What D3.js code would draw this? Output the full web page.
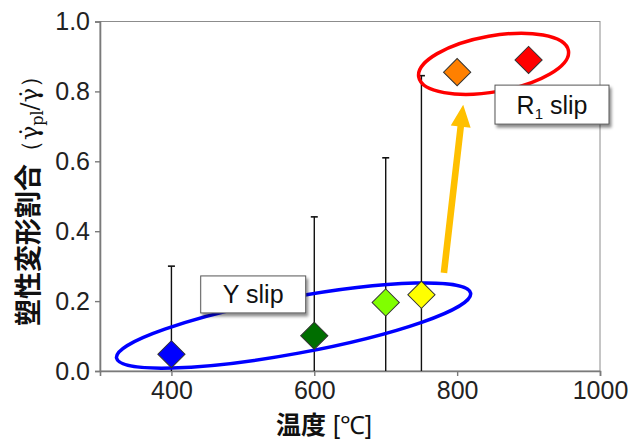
<!DOCTYPE html>
<html>
<head>
<meta charset="utf-8">
<script src="https://cdn.jsdelivr.net/npm/d3@7"></script>
<style>
  body { margin: 0; background: #fff; }
  svg { display: block; }
</style>
</head>
<body>
<svg id="chart" width="644" height="443"></svg>
<script>
// data
const temps = [400, 600, 700, 750, 800, 900];
const ratio = [0.048, 0.101, 0.196, 0.218, 0.855, 0.890];
const errUp = [0.252, 0.340, 0.414, 0.627, 0, 0];
const colors = ["#0000ff", "#006e00", "#80ff00", "#ffff00", "#ff8000", "#ff0000"];
const xTicks = [400, 600, 800, 1000];
const yTicks = [0, 0.2, 0.4, 0.6, 0.8, 1.0];

const svg = d3.select("#chart");
const x = d3.scaleLinear().domain([300, 1000]).range([100, 600]);
const y = d3.scaleLinear().domain([0, 1]).range([371, 21.5]);

const defs = svg.append("defs");
const f = defs.append("filter").attr("id", "shadow")
  .attr("x", "-20%").attr("y", "-20%").attr("width", "150%").attr("height", "160%");
f.append("feDropShadow").attr("dx", 2).attr("dy", 3).attr("stdDeviation", 1.6)
  .attr("flood-color", "#000").attr("flood-opacity", 0.45);

// frame
svg.append("rect")
  .attr("x", x(300)).attr("y", y(1))
  .attr("width", x(1000) - x(300)).attr("height", y(0) - y(1))
  .attr("fill", "none").attr("stroke", "#8c8c8c").attr("stroke-width", 1);

const xAxis = svg.append("g").attr("transform", `translate(0,${y(0)})`)
  .call(d3.axisBottom(x).tickValues(xTicks).tickSize(5).tickPadding(5).tickFormat(d3.format("d")));
const yAxis = svg.append("g").attr("transform", `translate(${x(300)},0)`)
  .call(d3.axisLeft(y).tickValues(yTicks).tickSize(5).tickPadding(5).tickFormat(d3.format(".1f")));

[xAxis, yAxis].forEach(a => {
  a.select(".domain").attr("stroke", "#7a7a7a").attr("stroke-width", 1.6);
  a.selectAll(".tick line").attr("stroke", "#7a7a7a").attr("stroke-width", 1.4);
  a.selectAll(".tick text")
    .attr("fill", "#222")
    .style("font-family", "Liberation Sans, Arial, sans-serif")
    .style("font-size", "25px");
});

// error bars (lower part is clipped at 0)
const pts = temps.map((t, i) => ({ t, v: ratio[i], e: errUp[i], c: colors[i] }));
const bars = svg.append("g");
pts.filter(d => d.e > 0).forEach(d => {
  bars.append("line")
    .attr("x1", x(d.t)).attr("x2", x(d.t))
    .attr("y1", y(0)).attr("y2", y(d.v + d.e))
    .attr("stroke", "#111").attr("stroke-width", 1.4);
  bars.append("line")
    .attr("x1", x(d.t) - 3.5).attr("x2", x(d.t) + 3.5)
    .attr("y1", y(d.v + d.e)).attr("y2", y(d.v + d.e))
    .attr("stroke", "#111").attr("stroke-width", 1.6);
});

// ellipses
const ellipses = [
  { cx: 571, cy: 0.130, rx: 180, ry: 28, rot: -10.4, color: "#0000ff" },
  { cx: 851, cy: 0.879, rx: 76, ry: 28, rot: -10, color: "#ff0000" }
];
svg.append("g").selectAll("ellipse").data(ellipses).join("ellipse")
  .attr("transform", d => `translate(${x(d.cx)},${y(d.cy)}) rotate(${d.rot})`)
  .attr("rx", d => d.rx).attr("ry", d => d.ry)
  .attr("fill", "none").attr("stroke", d => d.color).attr("stroke-width", 3.5);

// diamonds
svg.append("g").selectAll("path").data(pts).join("path")
  .attr("d", d3.symbol(d3.symbolSquare, 370))
  .attr("transform", d => `translate(${x(d.t)},${y(d.v)}) rotate(45)`)
  .attr("fill", d => d.c)
  .attr("stroke", "#333").attr("stroke-width", 1);

// label boxes
const labels = [
  { x0: 441, y0: 0.272, w: 105, h: 37, text: "Y slip", sub: null },
  { x0: 853, y0: 0.818, w: 114, h: 39, text: "R", sub: "1", rest: " slip" }
];
labels.forEach(l => {
  const g = svg.append("g");
  g.append("rect")
    .attr("x", x(l.x0)).attr("y", y(l.y0))
    .attr("width", l.w).attr("height", l.h)
    .attr("fill", "#fff").attr("stroke", "#555").attr("stroke-width", 1)
    .attr("filter", "url(#shadow)");
  const t = g.append("text")
    .attr("x", x(l.x0) + l.w / 2).attr("y", y(l.y0) + l.h / 2 + 9)
    .attr("text-anchor", "middle")
    .style("font-family", "Liberation Sans, Arial, sans-serif")
    .style("font-size", "25px").attr("fill", "#111");
  t.append("tspan").text(l.text);
  if (l.sub) {
    t.append("tspan").text(l.sub).attr("dy", 5).style("font-size", "15px");
    t.append("tspan").text(l.rest).attr("dy", -5);
  }
});

// arrow
const arrow = { x1: 781.5, y1: 0.281, x2: 808.5, y2: 0.762 };
{
  const ax1 = x(arrow.x1), ay1 = y(arrow.y1), ax2 = x(arrow.x2), ay2 = y(arrow.y2);
  const ang = Math.atan2(ay2 - ay1, ax2 - ax1);
  const len = Math.hypot(ax2 - ax1, ay2 - ay1);
  const head = 22, hw = 10, sw = 3.3;
  const g = svg.append("g")
    .attr("transform", `translate(${ax1},${ay1}) rotate(${ang * 180 / Math.PI})`);
  g.append("path")
    .attr("d", `M0,${-sw} L${len - head},${-sw} L${len - head},${-hw} L${len},0 L${len - head},${hw} L${len - head},${sw} L0,${sw} Z`)
    .attr("fill", "#ffc000");
}

// axis titles
const ytitle = svg.append("text")
  .attr("transform", "translate(38,195) rotate(-90)")
  .attr("text-anchor", "middle")
  .style("font-size", "27px").attr("fill", "#111");
ytitle.append("tspan").text("塑性変形割合")
  .style("font-family", "Noto Sans CJK JP").style("font-weight", "bold");
ytitle.append("tspan").text("（γ̇")
  .style("font-family", "DejaVu Serif, Liberation Serif, serif").style("font-size", "24px");
ytitle.append("tspan").text("pl").attr("dy", 5)
  .style("font-family", "DejaVu Serif, Liberation Serif, serif").style("font-size", "16px");
ytitle.append("tspan").text("/γ̇）").attr("dy", -5)
  .style("font-family", "DejaVu Serif, Liberation Serif, serif").style("font-size", "24px");

const xtitle = svg.append("text")
  .attr("x", 324).attr("y", 434)
  .attr("text-anchor", "middle")
  .style("font-size", "25px").attr("fill", "#111");
xtitle.append("tspan").text("温度")
  .style("font-family", "Noto Sans CJK JP").style("font-weight", "bold");
xtitle.append("tspan").text(" [℃]")
  .style("font-family", "Liberation Sans, Arial, sans-serif");
</script>
</body>
</html>
